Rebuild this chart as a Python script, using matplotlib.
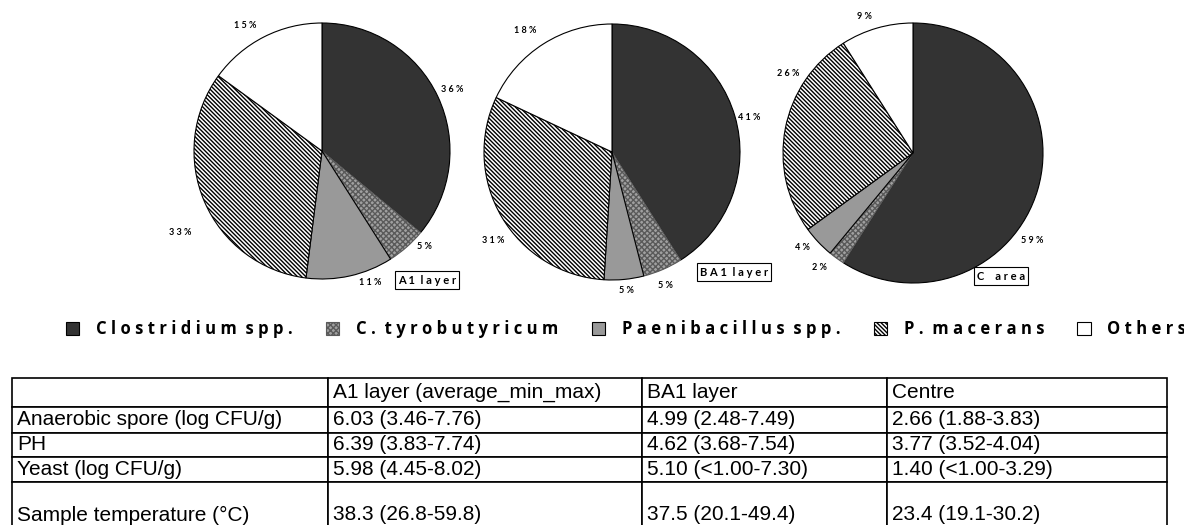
import matplotlib.pyplot as plt
from matplotlib.patches import Patch

W, H = 1184, 525

# -----------------------------
# DATA
# -----------------------------
species = ["Clostridium spp.", "C. tyrobutyricum", "Paenibacillus spp.", "P. macerans", "Others"]
a1_layer = [36, 5, 11, 33, 15]
ba1_layer = [41, 5, 5, 31, 18]
c_area = [59, 2, 4, 26, 9]
pie_names = ["A1 layer", "BA1 layer", "C  area"]

table_cols = ["", "A1 layer (average_min_max)", "BA1 layer", "Centre"]
table_rows = ["Anaerobic spore (log CFU/g)", "PH", "Yeast (log CFU/g)", "Sample temperature (°C)"]
a1_vals = ["6.03 (3.46-7.76)", "6.39 (3.83-7.74)", "5.98 (4.45-8.02)", "38.3 (26.8-59.8)"]
ba1_vals = ["4.99 (2.48-7.49)", "4.62 (3.68-7.54)", "5.10 (<1.00-7.30)", "37.5 (20.1-49.4)"]
centre_vals = ["2.66 (1.88-3.83)", "3.77 (3.52-4.04)", "1.40 (<1.00-3.29)", "23.4 (19.1-30.2)"]

# -----------------------------
# STYLE / LAYOUT
# -----------------------------
colors = ["#333333", "#a0a0a0", "#999999", "white", "white"]
edges = ["black", "#5a5a5a", "black", "black", "black"]
hatches = [None, "xxxxxx", None, "\\" * 8, None]

plt.rcParams["hatch.linewidth"] = 1.0

pie_centers = [(322, 151), (612, 152), (913, 153)]
pie_radius = [128, 128, 130]
box_pos = [(427, 280), (734, 272), (1001, 276)]
# percent label spots (in pie radii), placed like the source's "best fit"
label_spots = [
    [(1.02, 0.48), (0.80, -0.75), (0.38, -1.03), (-1.11, -0.64), (-0.60, 0.98)],
    [(1.07, 0.27), (0.42, -1.04), (0.11, -1.08), (-0.93, -0.69), (-0.68, 0.95)],
    [(0.92, -0.67), (-0.72, -0.88), (-0.85, -0.73), (-0.96, 0.61), (-0.37, 1.05)],
]


def spaced(s):
    # the source renders these labels with wide letter spacing
    return "  ".join(" ".join(w) for w in s.split(" "))


fig = plt.figure(figsize=(W / 100, H / 100), dpi=100)

# -----------------------------
# PIES
# -----------------------------
pie_data = [a1_layer, ba1_layer, c_area]

for vals, name, (cx, cy), r, (bx, by), spots in zip(pie_data, pie_names, pie_centers,
                                                      pie_radius, box_pos, label_spots):
    size = 2.5 * r
    ax = fig.add_axes([(cx - size / 2) / W, 1 - (cy + size / 2) / H, size / W, size / H])
    wedges, texts, autotexts = ax.pie(
        vals, colors=colors, startangle=90, counterclock=False,
        autopct=lambda p: spaced(f"{p:.0f}%"), pctdistance=1.14,
        wedgeprops=dict(linewidth=0.8),
        textprops=dict(fontsize=6.5, fontweight="bold", family="Lato"),
    )
    for w, e, h in zip(wedges, edges, hatches):
        w.set_edgecolor(e)
        if h:
            w.set_hatch(h)
    for t, spot in zip(autotexts, spots):
        t.set_position(spot)
    fig.text(bx / W, 1 - by / H, spaced(name), ha="center", va="center",
             fontsize=8, fontweight="bold", family="Lato",
             bbox=dict(boxstyle="square,pad=0.3", fc="white", ec="black", lw=0.8))

# -----------------------------
# LEGEND
# -----------------------------
handles = [Patch(facecolor=c, edgecolor=e, hatch=h, linewidth=0.8)
           for c, e, h in zip(colors, edges, hatches)]
fig.legend(handles, [spaced(s) for s in species], ncol=5, loc="center left",
           bbox_to_anchor=(66 / W, 1 - 329 / H), frameon=False,
           prop=dict(family="Open Sans", weight="bold", size=12),
           handlelength=0.8, handleheight=0.8, handletextpad=1.0,
           columnspacing=2.0, borderaxespad=0, borderpad=0)

# -----------------------------
# TABLE
# -----------------------------
col_px = [316, 314, 245, 280]
row_px = [29, 26, 24, 25, 66]
t_left, t_top = 12, 378
t_w, t_h = sum(col_px), sum(row_px)

tax = fig.add_axes([t_left / W, 1 - (t_top + t_h) / H, t_w / W, t_h / H])
tax.axis("off")
cells = [[r, a, b, c] for r, a, b, c in zip(table_rows, a1_vals, ba1_vals, centre_vals)]
tbl = tax.table(cellText=cells, colLabels=table_cols,
                colWidths=[c / t_w for c in col_px], cellLoc="left", colLoc="left",
                bbox=[0, 0, 1, 1])
tbl.auto_set_font_size(False)
for (ri, ci), cell in tbl.get_celld().items():
    cell.set_height(row_px[ri] / t_h)
    cell.set_linewidth(1.2)
    cell.PAD = 5 / col_px[ci]
    cell.get_text().set_fontsize(15)
    cell.get_text().set_family("Liberation Sans")

plt.savefig("out.png", dpi=100)
